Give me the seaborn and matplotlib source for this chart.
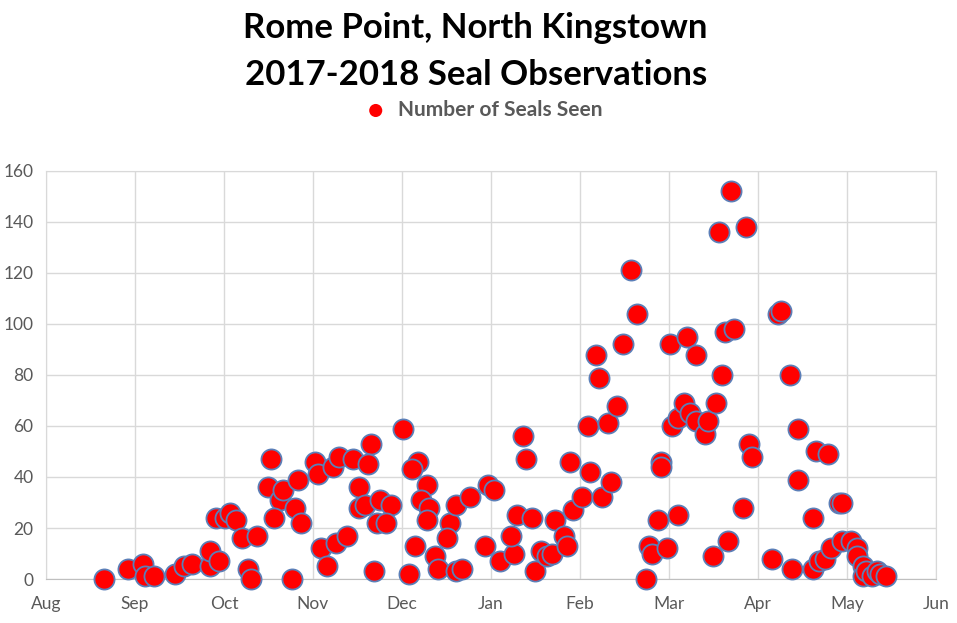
import matplotlib
matplotlib.use("Agg")
import matplotlib.pyplot as plt
import numpy as np
import pandas as pd
import seaborn as sns

# days counted from Aug 1 2017
days = [20, 28, 33, 34, 37, 44, 47, 50, 56, 56, 59,
        58, 61, 63, 65, 67, 72, 69, 70, 77, 76, 80, 81, 86, 85, 78, 87, 84,
        92, 93, 98, 100, 105, 94, 99, 103, 96, 107, 107, 111, 110, 109, 114, 118, 113, 116, 112,
        122, 124, 127, 125, 130, 128, 131, 130, 138, 137, 126, 133, 134, 140, 142, 140, 145, 151, 153, 150,
        155, 160, 159, 161, 166, 163, 164, 167, 169, 171, 173, 174, 177, 178, 180, 183, 179, 186, 190, 193,
        185, 192, 195, 188, 189, 197, 202, 200, 205, 206, 207, 209, 210, 210, 212,
        213, 214, 216, 216, 218, 219, 220, 222, 222, 225, 226, 228, 229, 230, 231, 232, 233, 234, 235, 238, 239, 240, 241,
        248, 250, 251, 254, 255, 257, 257, 262, 262, 263, 264, 266, 267, 268, 271, 272,
        272, 275, 277, 277, 279, 279, 280, 282, 284, 285, 287]
seals = [0, 4, 6, 1, 1, 2, 5, 6, 5, 11, 7,
         24, 24, 26, 23, 16, 17, 4, 0, 47, 36, 31, 35, 39, 28, 24, 22, 0,
         46, 41, 44, 48, 47, 12, 14, 17, 5, 36, 28, 53, 45, 29, 31, 29, 22, 22, 3,
         59, 2, 46, 43, 37, 31, 28, 23, 22, 16, 13, 9, 4, 3, 4, 29, 32, 37, 35, 13,
         7, 10, 17, 25, 24, 56, 47, 3, 11, 9, 10, 23, 17, 13, 27, 32, 46, 42, 32, 38,
         60, 61, 68, 88, 79, 92, 104, 121, 0, 13, 10, 23, 46, 44, 12,
         92, 60, 25, 63, 69, 95, 65, 88, 62, 57, 62, 9, 69, 136, 80, 97, 15, 152, 98, 28, 138, 53, 48,
         8, 104, 105, 80, 4, 59, 39, 24, 4, 50, 7, 8, 49, 12, 30, 30,
         15, 15, 12, 9, 5, 1, 3, 1, 3, 2, 1]
month_labels = ["Aug", "Sep", "Oct", "Nov", "Dec", "Jan", "Feb", "Mar", "Apr", "May", "Jun"]

df = pd.DataFrame({"day": days, "seals": seals})

sns.set_style("white")
plt.rcParams["font.family"] = ["Lato", "DejaVu Sans"]

fig = plt.figure(figsize=(9.57, 6.23), dpi=100)
ax = fig.add_axes([0.048, 0.0706, 0.930, 0.655])

sns.scatterplot(x="day", y="seals", data=df, ax=ax, s=210, color="#ff0000",
                edgecolor="#5b7fb8", linewidth=1.3, label="Number of Seals Seen",
                zorder=3, clip_on=False)

step = 30.4
ax.set_xlim(0, step * 10)
ax.set_ylim(0, 160)
ax.set_xticks([i * step for i in range(11)])
ax.set_xticklabels(month_labels)
ax.set_yticks(range(0, 161, 20))
ax.grid(True, color="#d9d9d9", linewidth=1)
ax.set_axisbelow(True)
for sp in ax.spines.values():
    sp.set_color("#d9d9d9")
ax.spines["bottom"].set_color("#bfbfbf")
ax.tick_params(axis="both", length=0, labelsize=12.5, colors="#595959")
ax.tick_params(axis="x", pad=12)
ax.tick_params(axis="y", pad=9)
ax.set_xlabel("")
ax.set_ylabel("")

fig.text(0.497, 0.955, "Rome Point, North Kingstown", ha="center", va="center",
         fontsize=25, fontweight="bold", color="black")
fig.text(0.497, 0.879, "2017-2018 Seal Observations", ha="center", va="center",
         fontsize=25, fontweight="bold", color="black")

leg = ax.legend(loc="center", bbox_to_anchor=(0.5, 0.8235), bbox_transform=fig.transFigure,
                frameon=False, fontsize=15, handletextpad=0.05, markerscale=0.65)
for h in leg.legend_handles:
    h.set_edgecolor("none")
for t in leg.get_texts():
    t.set_color("#595959")
    t.set_fontweight("bold")

fig.savefig("out.png", dpi=100)
